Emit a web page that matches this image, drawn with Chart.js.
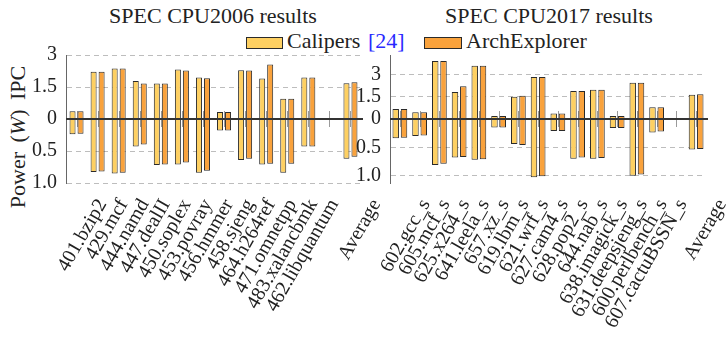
<!DOCTYPE html>
<html>
<head>
<meta charset="utf-8">
<script src="https://cdn.jsdelivr.net/npm/chart.js@4"></script>
<style>
  body { margin: 0; width: 726px; height: 337px; position: relative; background: #fff; overflow: hidden;
         font-family: 'Liberation Serif', serif; color: #222; }
  .t { position: absolute; font-size: 22px; line-height: 22px; white-space: nowrap; }
  .title { transform: translateX(-50%); top: 5px; }
  .box { position: absolute; top: 37px; height: 10px; border: 1px solid #2a2a2a; }
  canvas { position: absolute; top: 0; }
</style>
</head>
<body>
<div class="t title" style="left:213px">SPEC CPU2006 results</div>
<div class="t title" style="left:549px">SPEC CPU2017 results</div>

<div class="box" style="left:246px;width:35px;background:#fed062"></div>
<div class="t" style="left:287px;top:30px">Calipers</div>
<div class="t" style="left:368px;top:30px;color:#2a2aff">[24]</div>
<div class="box" style="left:424px;width:36px;background:#f9a23c"></div>
<div class="t" style="left:466px;top:30px">ArchExplorer</div>

<div class="t" style="left:18px;top:137px;transform:translate(-50%,-50%) rotate(-90deg);word-spacing:4px">Power (<i>W</i>) IPC</div>

<canvas id="c06" width="380" height="337" style="left:0"></canvas>
<canvas id="c17" width="371" height="337" style="left:355px"></canvas>

<script>
// SPEC CPU2006
const labels06 = ['401.bzip2', '429.mcf', '444.namd', '447.dealII', '450.soplex', '453.povray', '456.hmmer',
    '458.sjeng', '464.h264ref', '471.omnetpp', '483.xalancbmk', '462.libquantum', '', 'Average'];
const ipcCal06 = [0.36, 2.21, 2.37, 1.78, 1.66, 2.32, 1.94, 0.33, 2.29, 1.90, 0.95, 1.94, null, 1.67];
const ipcArch06 = [0.36, 2.21, 2.37, 1.66, 1.66, 2.27, 1.91, 0.33, 2.27, 2.56, 0.95, 1.94, null, 1.72];
const powCal06 = [0.24, 0.83, 0.85, 0.43, 0.72, 0.71, 0.84, 0.18, 0.64, 0.71, 0.84, 0.43, null, 0.62];
const powArch06 = [0.23, 0.82, 0.84, 0.40, 0.71, 0.68, 0.81, 0.18, 0.62, 0.70, 0.70, 0.43, null, 0.59];

// SPEC CPU2017
const labels17 = ['602.gcc_s', '605.mcf_s', '625.x264_s', '641.leela_s', '657.xz_s', '619.lbm_s', '621.wrf_s',
    '627.cam4_s', '628.pop2_s', '644.nab_s', '638.imagick_s', '631.deepsjeng_s', '600.perlbench_s',
    '607.cactuBSSN_s', '', 'Average'];
const ipcCal17 = [0.68, 0.45, 3.92, 1.82, 3.60, 0.20, 1.51, 2.85, 0.38, 1.89, 1.98, 0.20, 2.46, 0.80, null, 1.64];
const ipcArch17 = [0.68, 0.45, 3.92, 2.21, 3.60, 0.20, 1.58, 2.85, 0.38, 1.89, 1.98, 0.20, 2.46, 0.80, null, 1.67];
const powCal17 = [0.34, 0.30, 0.81, 0.68, 0.72, 0.15, 0.44, 1.03, 0.21, 0.70, 0.70, 0.16, 1.00, 0.24, null, 0.54];
const powArch17 = [0.33, 0.29, 0.79, 0.67, 0.71, 0.15, 0.46, 1.01, 0.21, 0.68, 0.69, 0.16, 0.98, 0.22, null, 0.53];

const ipcTicks = [0, 1.5, 3];
const powTicks = [0.5, 1.0];

const CAL = '#fed062';
const ARCH = '#f9a23c';
const EDGE = '#2a2a2a';
const FONT = { family: 'Liberation Serif', size: 20 };

Chart.defaults.font.family = 'Liberation Serif';
Chart.defaults.font.size = 20;
Chart.defaults.color = '#222';

// zero line over the bars and little ticks at each category
const zeroLine = {
    id: 'zeroLine',
    beforeDatasetsDraw(chart) {
        const ctx = chart.ctx;
        const x = chart.scales.x;
        const y0 = chart.scales.ipc.getPixelForValue(0);
        ctx.save();
        ctx.strokeStyle = '#9a9a9a';
        ctx.lineWidth = 1;
        ctx.beginPath();
        for (let i = 0; i < chart.data.labels.length; i++) {
            const px = Math.round(x.getPixelForValue(i)) + 0.5;
            ctx.moveTo(px, y0 - 8);
            ctx.lineTo(px, y0 + 8);
        }
        ctx.stroke();
        ctx.restore();
    },
    afterDatasetsDraw(chart) {
        const ctx = chart.ctx;
        const area = chart.chartArea;
        const y0 = chart.scales.ipc.getPixelForValue(0);
        ctx.save();
        ctx.strokeStyle = '#333';
        ctx.lineWidth = 2;
        ctx.beginPath();
        ctx.moveTo(area.left, y0);
        ctx.lineTo(area.right + 2, y0);
        ctx.stroke();
        ctx.restore();
    }
};

function makeChart(id, labels, ipcC, ipcA, powC, powA, ipcMax, powMax, yWidth, padRight, cp, bp) {
    const bar = { borderColor: EDGE, borderWidth: 1, categoryPercentage: cp, barPercentage: bp };
    return new Chart(document.getElementById(id), {
        type: 'bar',
        data: {
            labels: labels,
            datasets: [
                { ...bar, label: 'Calipers', data: ipcC, yAxisID: 'ipc', stack: 'cal', backgroundColor: CAL },
                { ...bar, label: 'ArchExplorer', data: ipcA, yAxisID: 'ipc', stack: 'arch', backgroundColor: ARCH },
                { ...bar, label: 'Calipers', data: powC, yAxisID: 'pow', stack: 'cal', backgroundColor: CAL },
                { ...bar, label: 'ArchExplorer', data: powA, yAxisID: 'pow', stack: 'arch', backgroundColor: ARCH }
            ]
        },
        options: {
            responsive: false,
            animation: false,
            devicePixelRatio: 1,
            layout: { padding: { top: 55, right: padRight, left: 0, bottom: 0 } },
            plugins: { legend: { display: false }, tooltip: { enabled: false } },
            scales: {
                x: {
                    grid: { display: false },
                    border: { display: false },
                    ticks: { font: FONT, color: '#222', autoSkip: false, minRotation: 60, maxRotation: 60, labelOffset: 26, padding: 4 },
                    afterFit(s) { s.height = 154; s.paddingLeft = 0; s.paddingRight = 0; }
                },
                ipc: {
                    position: 'left', stack: 'v', stackWeight: 1, weight: 2,
                    min: 0, max: ipcMax,
                    afterBuildTicks(s) { s.ticks = ipcTicks.map(v => ({ value: v })); },
                    ticks: { font: FONT, color: '#222', padding: 9, callback: v => String(v) },
                    grid: { drawTicks: false, color: c => c.tick && c.tick.value === 0 ? 'rgba(0,0,0,0)' : '#bdbdbd' },
                    border: { display: true, color: '#666', dash: [5, 4] },
                    afterFit(s) { s.width = yWidth; s.paddingTop = 0; s.paddingBottom = 0; }
                },
                pow: {
                    position: 'left', stack: 'v', stackWeight: 1, weight: 1,
                    min: 0, max: powMax, reverse: true,
                    afterBuildTicks(s) { s.ticks = powTicks.map(v => ({ value: v })); },
                    ticks: { font: FONT, color: '#222', padding: 9, callback: v => v.toFixed(1) },
                    grid: { drawTicks: false, color: '#bdbdbd' },
                    border: { display: true, color: '#666', dash: [5, 4] },
                    afterFit(s) { s.width = yWidth; s.paddingTop = 0; s.paddingBottom = 0; }
                }
            }
        },
        plugins: [zeroLine]
    });
}

makeChart('c06', labels06, ipcCal06, ipcArch06, powCal06, powArch06, 3, 1.0, 66, 19, 0.76, 0.75);
makeChart('c17', labels17, ipcCal17, ipcArch17, powCal17, powArch17, 4.33, 1.13, 35, 20, 0.84, 0.78);
</script>
</body>
</html>
